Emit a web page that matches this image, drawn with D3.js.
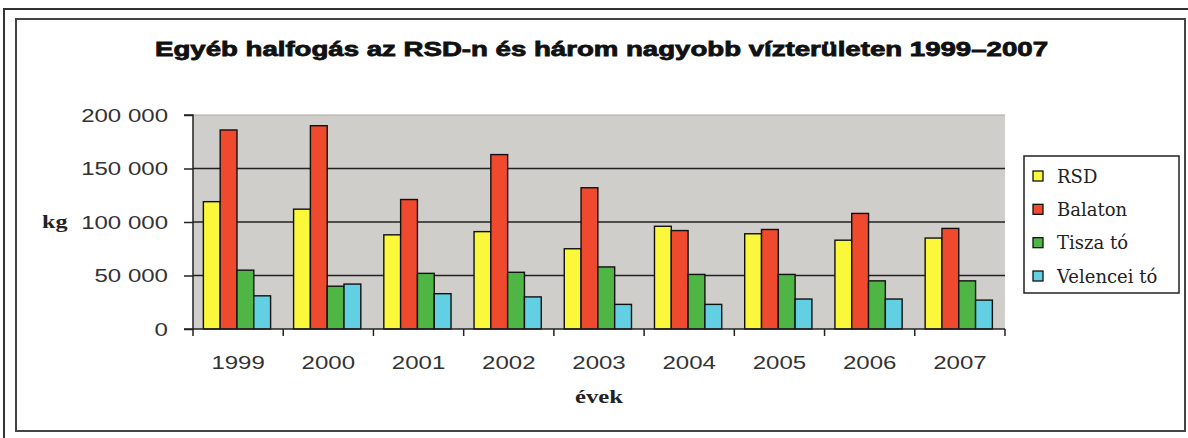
<!DOCTYPE html>
<html><head><meta charset="utf-8">
<script src="https://cdn.jsdelivr.net/npm/d3@7"></script>
<style>html,body{margin:0;padding:0;background:#fff;}svg{display:block;}</style>
</head><body>
<svg id="c" width="1188" height="438"></svg>
<script>
const years = ["1999","2000","2001","2002","2003","2004","2005","2006","2007"];
const seriesNames = ["RSD","Balaton","Tisza tó","Velencei tó"];
const rsd      = [119000,112000, 88000, 91000, 75000, 96000, 89000, 83000, 85000];
const balaton  = [186000,190000,121000,163000,132000, 92000, 93000,108000, 94000];
const tisza    = [ 55000, 40000, 52000, 53000, 58000, 51000, 51000, 45000, 45000];
const velencei = [ 31000, 42000, 33000, 30000, 23000, 23000, 28000, 28000, 27000];
const yTicks = [0,50000,100000,150000,200000];
const yTickLabels = ["0","50 000","100 000","150 000","200 000"];
const colors = ["#fbf83c","#ef4a2e","#4fb646","#62d0e2"];
const seriesValues = [rsd, balaton, tisza, velencei];

const svg = d3.select("#c");
const L = 193, R = 1005, T = 115, B = 329;

// frames
svg.append("path").attr("d","M4,438 V9 H1188").attr("fill","none").attr("stroke","#333").attr("stroke-width",2);
svg.append("rect").attr("x",16).attr("y",19).attr("width",1169).attr("height",412)
  .attr("fill","none").attr("stroke","#444").attr("stroke-width",2);

// title
svg.append("text").attr("x",155).attr("y",56).attr("textLength",893).attr("lengthAdjust","spacingAndGlyphs")
  .attr("font-family","'Liberation Sans',Arial,sans-serif").attr("font-weight","bold").attr("font-size",20)
  .attr("fill","#111").attr("stroke","#111").attr("stroke-width",0.8)
  .text("Egyéb halfogás az RSD-n és három nagyobb vízterületen 1999–2007");

const x0 = d3.scaleBand().domain(years).range([L,R]).paddingInner(0).paddingOuter(0);
const x1 = d3.scaleBand().domain(seriesNames).range([x0.bandwidth()*0.115, x0.bandwidth()*0.86]);
const y = d3.scaleLinear().domain([0,200000]).range([B,T]);

// plot bg
svg.append("rect").attr("x",L).attr("y",T).attr("width",R-L).attr("height",B-T).attr("fill","#d0cecb");
svg.append("line").attr("x1",L).attr("x2",R).attr("y1",y(200000)).attr("y2",y(200000)).attr("stroke","#a8a8a8").attr("stroke-width",1);
// gridlines
svg.append("g").selectAll("line").data(yTicks.filter(v=>v>0 && v<200000)).join("line")
  .attr("x1",L).attr("x2",R).attr("y1",d=>y(d)).attr("y2",d=>y(d))
  .attr("stroke","#222").attr("stroke-width",1.5);

// bars
const g = svg.append("g");
years.forEach((yr,i)=>{
  seriesNames.forEach((s,j)=>{
    const v = seriesValues[j][i];
    g.append("rect").attr("x",x0(yr)+x1(s)).attr("y",y(v)).attr("width",x1.bandwidth()).attr("height",y(0)-y(v))
      .attr("fill",colors[j]).attr("stroke","#111").attr("stroke-width",1.4);
  });
});

// y axis
const yAxis = d3.axisLeft(y).tickValues(yTicks).tickSize(9).tickFormat("");
const ya = svg.append("g").attr("transform",`translate(${L},0)`).call(yAxis);
ya.selectAll("line,path").attr("stroke","#222").attr("stroke-width",1.5);
ya.select(".domain").attr("d",`M-9,${T}H0V${B}H-9`);
yTicks.forEach((v,i)=>{
  svg.append("text").attr("transform",`translate(168,${y(v)+6.5}) scale(1.3,1)`)
    .attr("text-anchor","end").attr("font-family","'Liberation Sans',Arial,sans-serif").attr("font-size",18.5)
    .attr("fill","#333").text(yTickLabels[i]);
});

// x axis
const xa = svg.append("g");
xa.append("line").attr("x1",L).attr("x2",R).attr("y1",B).attr("y2",B).attr("stroke","#222").attr("stroke-width",1.5);
xa.selectAll("line.t").data(years.concat(["end"])).join("line").attr("class","t")
  .attr("x1",(d,i)=> i<years.length ? x0(d) : R).attr("x2",(d,i)=> i<years.length ? x0(d) : R)
  .attr("y1",B).attr("y2",B+7).attr("stroke","#222").attr("stroke-width",1.5);
years.forEach(yr=>{
  svg.append("text").attr("transform",`translate(${x0(yr)+x0.bandwidth()/2},${369}) scale(1.3,1)`)
    .attr("text-anchor","middle").attr("font-family","'Liberation Sans',Arial,sans-serif").attr("font-size",18.5)
    .attr("fill","#333").text(yr);
});

// axis titles
svg.append("text").attr("transform",`translate(${(L+R)/2},403) scale(1.3,1)`).attr("text-anchor","middle")
  .attr("font-family","'Liberation Serif','Times New Roman',serif").attr("font-weight","bold").attr("font-size",19)
  .attr("fill","#222").text("évek");
svg.append("text").attr("transform",`translate(42,228) scale(1.27,1)`)
  .attr("font-family","'Liberation Serif','Times New Roman',serif").attr("font-weight","bold").attr("font-size",19)
  .attr("fill","#222").text("kg");

// legend
const lg = svg.append("g");
lg.append("rect").attr("x",1024).attr("y",156).attr("width",155).attr("height",137)
  .attr("fill","#fff").attr("stroke","#222").attr("stroke-width",1.5);
const rowY = d3.scalePoint().domain(seriesNames).range([176,276]);
seriesNames.forEach((s,j)=>{
  lg.append("rect").attr("x",1033).attr("y",rowY(s)-5).attr("width",10).attr("height",10)
    .attr("fill",colors[j]).attr("stroke","#111").attr("stroke-width",1.3);
  lg.append("text").attr("x",1057).attr("y",rowY(s)+6.5)
    .attr("font-family","'DejaVu Serif',serif").attr("font-size",18)
    .attr("fill","#222").text(s);
});
</script>
</body></html>
